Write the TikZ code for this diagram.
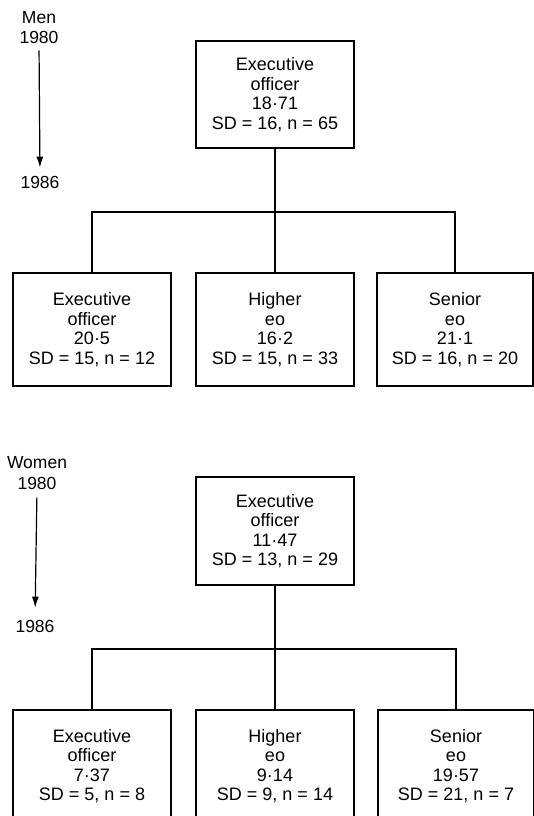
\documentclass[tikz,border=0pt]{standalone}
\usepackage{fontspec}
\setmainfont{Liberation Sans}
\usetikzlibrary{arrows.meta}

\begin{document}
\begin{tikzpicture}[x=1pt, y=-1pt,
  line/.style={line width=1.3pt, draw=black},
  box/.style={draw=black, line width=1.5pt, align=center, inner sep=0pt,
    font=\fontsize{18}{19.5}\selectfont, minimum width=158pt},
  label/.style={font=\fontsize{17.5}{19.5}\selectfont, inner sep=0pt},
  timearrow/.style={-{Latex[length=11pt,width=7pt]}, line width=1.2pt},
]
\useasboundingbox (0,0) rectangle (534,816);
\clip (0,0) rectangle (534,816);

% Men
\node[label] (menlbl) at (39,18) {Men};
\node[label] (mstart) at (39,37) {1980};
\node[label] (mend) at (40,182) {1986};
\draw[timearrow, shorten <=7pt, shorten >=8pt] (mstart.south) -- (mend.north);

\node[box, minimum height=107pt] (mtop) at (275,94.5)
  {Executive\\officer\\18·71\\SD = 16, n = 65};
\node[box, minimum height=113pt] (mone) at (92,329.5)
  {Executive\\officer\\20·5\\SD = 15, n = 12};
\node[box, minimum height=113pt] (mtwo) at (275,329.5)
  {Higher\\eo\\16·2\\SD = 15, n = 33};
\node[box, minimum height=113pt, minimum width=156pt] (mthree) at (455,329.5)
  {Senior\\eo\\21·1\\SD = 16, n = 20};
\coordinate (mbar) at (275,212);

\draw[line] (mtop.south) -- (mtwo.north);
\draw[line] (mone.north) |- (mbar) -| (mthree.north);

% Women
\node[label] (womenlbl) at (37,463) {Women};
\node[label] (wstart) at (37,483) {1980};
\node[label] (wend) at (35,626) {1986};
\draw[timearrow, shorten <=8pt, shorten >=12pt] (wstart.south) -- (wend.north);

\node[box, minimum height=108pt] (wtop) at (275,531)
  {Executive\\officer\\11·47\\SD = 13, n = 29};
\node[box, minimum height=112pt] (wone) at (92,766)
  {Executive\\officer\\7·37\\SD = 5, n = 8};
\node[box, minimum height=112pt] (wtwo) at (275,766)
  {Higher\\eo\\9·14\\SD = 9, n = 14};
\node[box, minimum height=112pt, minimum width=156pt] (wthree) at (456,766)
  {Senior\\eo\\19·57\\SD = 21, n = 7};
\coordinate (wbar) at (275,649);

\draw[line] (wtop.south) -- (wtwo.north);
\draw[line] (wone.north) |- (wbar) -| (wthree.north);

\end{tikzpicture}
\end{document}
